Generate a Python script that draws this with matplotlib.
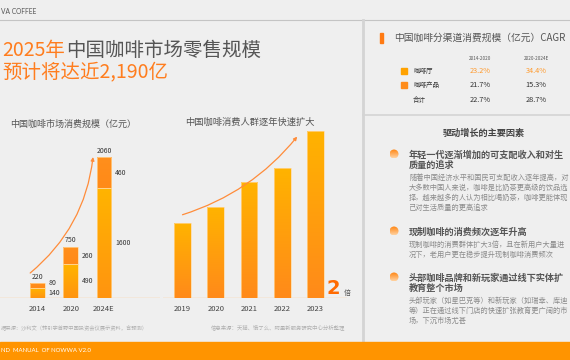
import numpy as np
import matplotlib.pyplot as plt
from matplotlib.patches import Rectangle, Circle
from matplotlib.colors import LinearSegmentedColormap

plt.rcParams['font.family'] = ['Noto Sans CJK SC', 'DejaVu Sans']

# ---- data ----
years1 = ['2014', '2020', '2024E']
cafe = [140, 490, 1600]        # 咖啡厅 (bottom segment)
product = [80, 260, 460]       # 咖啡产品 (top segment)
totals = [220, 750, 2060]

years2 = ['2019', '2020', '2021', '2022', '2023']
crowd_index = [1.00, 1.21, 1.55, 1.73, 2.23]   # relative size, 2019 = 1

cagr_rows = ['咖啡厅', '咖啡产品', '合计']
cagr_periods = ['2014-2020', '2020-2024E']
cagr_1420 = ['23.2%', '21.7%', '22.7%']
cagr_2024 = ['34.4%', '15.3%', '28.7%']

# visible part of the (cropped) right panel text
factors = [
    ('年轻一代逐渐增加的可支配收入和对生\n质量的追求',
     ['随着中国经济水平和国民可支配收入逐年提高，对',
      '大多数中国人来说，咖啡是比奶茶更高级的饮品选',
      '择，越来越多的人认为相比喝奶茶，咖啡更能体现',
      '己对生活质量的更高追求']),
    ('现制咖啡的消费频次逐年升高',
     ['现制咖啡的消费群体扩大3倍，且在新用户大量进',
      '况下，老用户更在稳步提升现制咖啡消费频次']),
    ('头部咖啡品牌和新玩家通过线下实体扩\n教育整个市场',
     ['头部玩家（如星巴克等）和新玩家（如瑞幸、库迪',
      '等）正在通过线下门店的快速扩张教育更广阔的市',
      '场，下沉市场尤甚']),
]

ORANGE = '#ff7d1e'
GRAY_T = '#555555'
BG = '#efefef'

W, H = 570, 360
fig = plt.figure(figsize=(5.7, 3.6), dpi=100)
fig.patch.set_facecolor(BG)

bg = fig.add_axes([0, 0, 1, 1])
bg.set_xlim(0, W)
bg.set_ylim(H, 0)
bg.axis('off')


def px_axes(x0, x1, ytop, ybot):
    ax = fig.add_axes([x0 / W, 1 - ybot / H, (x1 - x0) / W, (ybot - ytop) / H])
    ax.patch.set_alpha(0)
    for s in ax.spines.values():
        s.set_visible(False)
    return ax


def grad_fill(ax, patch, c_top, c_bot):
    ext = patch.get_path().get_extents(patch.get_patch_transform())
    cmap = LinearSegmentedColormap.from_list('g', [c_bot, c_top])
    g = np.linspace(0, 1, 64).reshape(-1, 1)
    im = ax.imshow(g, extent=[ext.x0, ext.x1, ext.y0, ext.y1], origin='lower',
                   cmap=cmap, aspect='auto', zorder=patch.get_zorder() - 0.1)
    im.set_clip_path(patch)


# ---- header / frame ----
bg.text(1, 12, 'VA COFFEE', ha='left', va='center', fontsize=4.8,
        color='#555555', family=['Lato', 'DejaVu Sans'])
bg.plot([0, W], [20, 20], color='#c4c4c4', lw=0.8)
bg.plot([363, 363], [20, 342], color='#d4d4d4', lw=2)
bg.plot([363, W], [115, 115], color='#d4d4d4', lw=1.2)
bg.add_patch(Rectangle((0, 342), W, 18, color='#ff9400', zorder=5))
bg.text(1, 351, 'ND  MANUAL  OF NOWWA V2.0', ha='left', va='center',
        fontsize=4.3, color='white', family=['Lato', 'DejaVu Sans'], zorder=6)

# ---- title ----
r = fig.canvas.get_renderer()
t1 = bg.text(2, 50, '2025年', ha='left', va='center', fontsize=14, color=ORANGE)
bb = t1.get_window_extent(renderer=r)
bg.text(bb.x1 + 1, 50, '中国咖啡市场零售规模', ha='left', va='center',
        fontsize=14, color=GRAY_T)
bg.text(2, 72, '预计将达近2,190亿', ha='left', va='center', fontsize=14, color=ORANGE)

# ---- chart 1: market size stacked bars ----
ax1 = px_axes(0, 160, 140, 298)
x1 = np.arange(len(years1))
b_cafe = ax1.bar(x1, cafe, width=0.44, facecolor='none', edgecolor='#ffd79a', lw=0.5, zorder=3)
b_prod = ax1.bar(x1, product, bottom=cafe, width=0.44, facecolor='none',
                 edgecolor='#ffd79a', lw=0.5, zorder=3)
for p in b_cafe:
    grad_fill(ax1, p, '#ffb400', '#ff9410')
for p in b_prod:
    grad_fill(ax1, p, '#ff8f1c', '#ff8a18')
for i in range(len(years1)):
    ax1.text(x1[i], totals[i] + 35, str(totals[i]), ha='center', va='bottom',
             fontsize=5, color='#333333')
    ax1.text(x1[i] + 0.33, cafe[i] / 2, str(cafe[i]), ha='left', va='center',
             fontsize=5, color='#333333')
    ax1.text(x1[i] + 0.33, cafe[i] + product[i] / 2 + (40 if i == 0 else 0), str(product[i]),
             ha='left', va='center', fontsize=5, color='#333333')
ax1.annotate('', xy=(x1[-1] - 0.33, totals[-1]), xytext=(x1[0] - 0.22, totals[0] * 1.66),
             arrowprops=dict(arrowstyle='-|>', color='#ff8c3a', lw=0.9, mutation_scale=5,
                             connectionstyle='arc3,rad=0.2', shrinkA=0, shrinkB=0))
ax1.axhline(0, color='#ffc98e', lw=1)
ax1.set_xlim(-1.128, 3.684)
ax1.set_ylim(0, 158 * 2060 / 141)
ax1.set_xticks(x1, years1)
ax1.set_yticks([])
ax1.tick_params(axis='x', length=0, pad=5, labelsize=5.5, labelcolor='#444444')
bg.text(10, 124, '中国咖啡市场消费规模（亿元）', ha='left', va='center', fontsize=6.5, color=GRAY_T)
bg.text(0.5, 328, '据来源：沙利文（转引字首野中国投资会议展示资料，含预测）', ha='left',
        va='center', fontsize=3.8, color='#b0b0b0')

# ---- chart 2: consumer crowd ----
ax2 = px_axes(163, 347, 125, 298)
x2 = np.arange(len(years2))
b2 = ax2.bar(x2, crowd_index, width=0.5, facecolor='none', edgecolor='#ffd79a', lw=0.5, zorder=3)
for p in b2:
    grad_fill(ax2, p, '#ffb300', '#ff8a1a')
ax2.annotate('', xy=(x2[-1] - 0.55, crowd_index[-1] * 0.965),
             xytext=(x2[0], crowd_index[0] * 1.11),
             arrowprops=dict(arrowstyle='-|>', color='#ff8c3a', lw=0.9, mutation_scale=5,
                             connectionstyle='arc3,rad=0.15', shrinkA=0, shrinkB=0))
ax2.axhline(0, color='#ffc98e', lw=1)
ax2.set_xlim(-0.586, 4.948)
ax2.set_ylim(0, 173 / 75)
ax2.set_xticks(x2, years2)
ax2.set_yticks([])
ax2.tick_params(axis='x', length=0, pad=5, labelsize=5.5, labelcolor='#444444')
bg.text(250, 122, '中国咖啡消费人群逐年快速扩大', ha='center', va='center', fontsize=6.7, color=GRAY_T)
bg.text(326, 288, '2', ha='left', va='center', fontsize=14, fontweight='bold',
        color='#ff6a00', family=['DejaVu Sans'])
bg.text(344, 293, '倍', ha='left', va='center', fontsize=5, color='#555555')
bg.text(345, 327, '信息来源：天猫、饿了么、阿里新服务研究中心分析整理', ha='right',
        va='center', fontsize=3.9, color='#b0b0b0')

# ---- right panel: CAGR table ----
bg.add_patch(Rectangle((380, 33), 2.5, 10, color='#ff7a12'))
bg.text(394, 38, '中国咖啡分渠道消费规模（亿元）CAGR', ha='left', va='center',
        fontsize=7, color=GRAY_T)
col_x = [480, 536]
row_y = [71, 85, 100]
for cx, per in zip(col_x, cagr_periods):
    bg.text(cx, 58, per, ha='center', va='center', fontsize=3.3, color='#555555')
marker_cols = ['#ffa200', '#ff8c1a', None]
for i, name in enumerate(cagr_rows):
    y = row_y[i]
    if marker_cols[i]:
        bg.add_patch(Rectangle((401, y - 3), 6, 6, color=marker_cols[i]))
    bg.text(413, y, name, ha='left', va='center', fontsize=4.7, color='#333333')
    c = '#ff9a2e' if i == 0 else '#333333'
    bg.text(col_x[0], y, cagr_1420[i], ha='center', va='center', fontsize=5.3, color=c)
    bg.text(col_x[1], y, cagr_2024[i], ha='center', va='center', fontsize=5.3, color=c)

# ---- right panel: growth drivers ----
bg.text(484, 133, '驱动增长的主要因素', ha='center', va='center', fontsize=6.6,
        color='#444444', fontweight='bold')
head_y = [154, 231, 277]
for (head, body), hy in zip(factors, head_y):
    circ = Circle((394, hy), 4.5, facecolor='none', edgecolor='none', zorder=3)
    bg.add_patch(circ)
    cm = LinearSegmentedColormap.from_list('c', ['#ffd2a0', '#ff8410'])
    im = bg.imshow(np.linspace(0, 1, 32).reshape(-1, 1), extent=[389.5, 398.5, hy + 4.5, hy - 4.5],
                   origin='lower', cmap=cm, aspect='auto', zorder=2)
    im.set_clip_path(circ)
    bg.text(409, hy - 4, head, ha='left', va='top', fontsize=6.6, fontweight='bold',
            color='#555555', linespacing=1.15)
    nlines = head.count('\n') + 1
    by = hy + 10 * nlines + 4
    for k, line in enumerate(body):
        bg.text(409, by + 10 * k, line, ha='left', va='center', fontsize=5.2, color='#8a8a8a')

bg.set_xlim(0, W)
bg.set_ylim(H, 0)

fig.savefig('out.png', dpi=100, facecolor=fig.get_facecolor())
